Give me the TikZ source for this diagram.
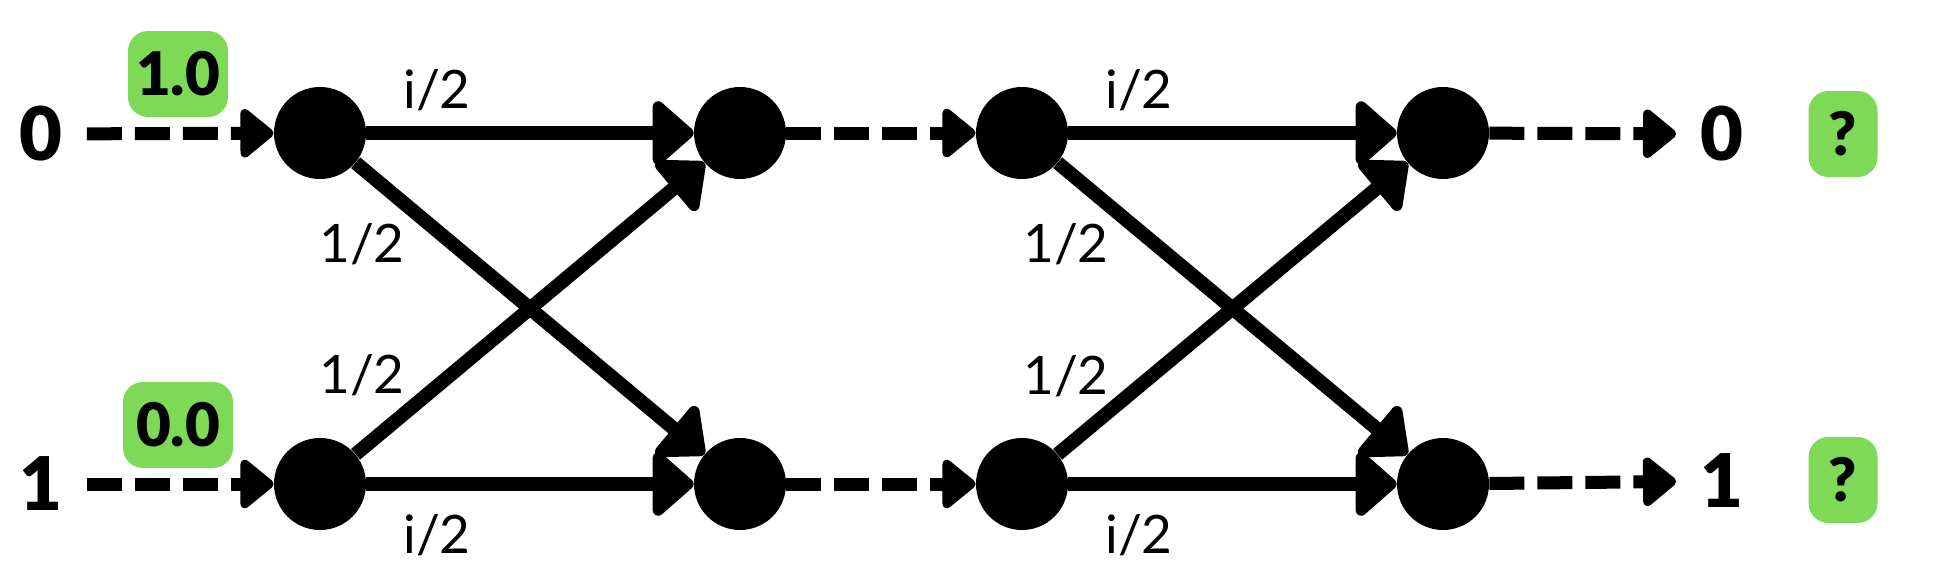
\documentclass[tikz,border=0pt]{standalone}
\usepackage{fontspec}
\setmainfont{Lato}
\newfontfamily\heavyfont{Lato Black}
\usetikzlibrary{arrows.meta}
\definecolor{boxgreen}{HTML}{7ED957}
\begin{document}
\begin{tikzpicture}[x=0.5pt,y=-0.5pt,
  dot/.style={circle, fill=black, minimum size=46pt, inner sep=0pt},
  solidarrow/.style={line width=7pt, -{Triangle[length=22pt,width=37pt,round]}},
  dasharrow/.style={line width=6.5pt, dash pattern=on 17.5pt off 6.5pt, -{Triangle[length=18pt,width=28pt,round]}},
  lab/.style={font=\fontsize{26.5}{30}\selectfont, inner sep=0pt},
  big/.style={font=\heavyfont\fontsize{37}{42}\selectfont, inner sep=0pt},
  gbox/.style={fill=boxgreen, rounded corners=10pt, minimum height=43pt, inner sep=0pt, font=\heavyfont\fontsize{30}{35}\selectfont}]
\useasboundingbox (0,0) rectangle (1936,578);
% main nodes
\node[dot] (a1) at (320,133) {};
\node[dot] (b1) at (320,484) {};
\node[dot] (a2) at (740,133) {};
\node[dot] (b2) at (740,484) {};
\node[dot] (a3) at (1022,133) {};
\node[dot] (b3) at (1022,484) {};
\node[dot] (a4) at (1443,133) {};
\node[dot] (b4) at (1443,484) {};
% inputs / outputs
\node[big] (in0) at (41,134) {0};
\node[big] (in1) at (41,484) {1};
\node[big] (out0) at (1722,134) {0};
\node[big] (out1) at (1722,481) {1};
% green boxes
\node[gbox, minimum width=50pt] (g1) at (178,74) {1.0};
\node[gbox, minimum width=55pt] (g0) at (178,425) {0.0};
\node[gbox, minimum width=34.5pt] (q0) at (1843,134) {?};
\node[gbox, minimum width=34.5pt] (q1) at (1843,480) {?};
% edge labels
\node[lab] (l1) at (437,90) {i/2};
\node[lab] (l2) at (362,244) {1/2};
\node[lab] (l3) at (362,375) {1/2};
\node[lab] (l4) at (437,535) {i/2};
\node[lab] (l5) at (1139,90) {i/2};
\node[lab] (l6) at (1066,244) {1/2};
\node[lab] (l7) at (1066,376) {1/2};
\node[lab] (l8) at (1139,535) {i/2};
% dashed connectors
\draw[dasharrow, shorten <=12pt] (in0) -- (a1);
\draw[dasharrow, shorten <=12pt] (in1) -- (b1);
\draw[dasharrow] (a2) -- (a3);
\draw[dasharrow] (b2) -- (b3);
\draw[dasharrow, shorten >=12pt] (a4) -- (out0);
\draw[dasharrow, shorten >=12pt] (b4) -- (out1);
% solid connectors
\draw[solidarrow] (a1) -- (a2);
\draw[solidarrow] (a1) -- (b2);
\draw[solidarrow] (b1) -- (a2);
\draw[solidarrow] (b1) -- (b2);
\draw[solidarrow] (a3) -- (a4);
\draw[solidarrow] (a3) -- (b4);
\draw[solidarrow] (b3) -- (a4);
\draw[solidarrow] (b3) -- (b4);
\end{tikzpicture}
\end{document}
